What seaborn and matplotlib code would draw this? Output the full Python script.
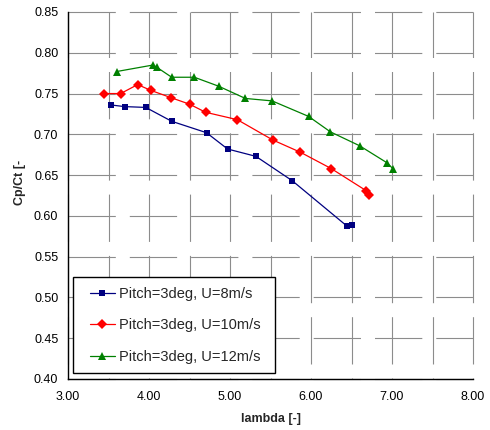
import numpy as np
import pandas as pd
import matplotlib
matplotlib.use("Agg")
import matplotlib.pyplot as plt
from matplotlib.patches import Rectangle
import seaborn as sns

# values
lam_8 = [3.53, 3.70, 3.96, 4.28, 4.71, 4.97, 5.32, 5.77, 6.45, 6.50]
cp_8 = [0.736, 0.734, 0.733, 0.716, 0.702, 0.682, 0.673, 0.643, 0.587, 0.589]
lam_10 = [3.44, 3.65, 3.86, 4.02, 4.27, 4.50, 4.70, 5.09, 5.53, 5.87, 6.25, 6.68, 6.72]
cp_10 = [0.750, 0.750, 0.761, 0.754, 0.745, 0.737, 0.727, 0.718, 0.693, 0.678, 0.658, 0.631, 0.626]
lam_12 = [3.60, 4.05, 4.10, 4.28, 4.56, 4.86, 5.19, 5.52, 5.97, 6.24, 6.60, 6.94, 7.01]
cp_12 = [0.777, 0.785, 0.782, 0.770, 0.770, 0.759, 0.744, 0.741, 0.722, 0.703, 0.686, 0.665, 0.658]

labels = ["Pitch=3deg, U=8m/s", "Pitch=3deg, U=10m/s", "Pitch=3deg, U=12m/s"]
colors = ["#000080", "#FF0000", "#008000"]
markers = ["s", "D", "^"]
marker_sizes = [5, 5, 6]

sns.set_style("white")
plt.rcParams["font.family"] = ["Liberation Sans", "DejaVu Sans"]
plt.rcParams["lines.scale_dashes"] = False

df = pd.concat([
    pd.DataFrame({"lambda": lam_8, "cp": cp_8, "series": labels[0]}),
    pd.DataFrame({"lambda": lam_10, "cp": cp_10, "series": labels[1]}),
    pd.DataFrame({"lambda": lam_12, "cp": cp_12, "series": labels[2]}),
], ignore_index=True)

fig = plt.figure(figsize=(4.9, 4.3), dpi=100)
ax = fig.add_axes([68 / 490, 51 / 430, 405 / 490, 367 / 430])

for lab, col, mk, ms in zip(labels, colors, markers, marker_sizes):
    sub = df[df["series"] == lab]
    sns.lineplot(data=sub, x="lambda", y="cp", ax=ax, color=col, marker=mk,
                 markersize=ms, markeredgewidth=0, linewidth=0.9, sort=False,
                 estimator=None, label=lab, legend=False)

ax.set_xlim(3, 8)
ax.set_ylim(0.40, 0.85)
ax.set_xticks(np.arange(3, 8.01, 1.0))
ax.set_xticks(np.arange(3.5, 8, 1.0), minor=True)
ax.set_yticks(np.arange(0.40, 0.851, 0.05))
ax.set_xticklabels([f"{v:.2f}" for v in np.arange(3, 8.01, 1.0)])
ax.set_yticklabels([f"{v:.2f}" for v in np.arange(0.40, 0.851, 0.05)])

# broken grid like the original export: 47 px on, 14 px off
on, off = 47.3 * 0.72, 14 * 0.72
ax.grid(True, axis="y", which="major", color="#8c8c8c", linewidth=0.8,
        linestyle=(0, (on, off)))
ax.grid(True, axis="x", which="both", color="#8c8c8c", linewidth=0.8,
        linestyle=(46.3 * 0.72, (on, off)))
ax.set_axisbelow(True)
for gl in ax.get_xgridlines() + ax.get_ygridlines():
    gl.set_clip_on(False)

for s in ["top", "right"]:
    ax.spines[s].set_visible(False)
for s in ["left", "bottom"]:
    ax.spines[s].set_color("black")
    ax.spines[s].set_linewidth(1.0)

ax.tick_params(axis="both", which="major", direction="out", length=3, width=0.8,
               labelsize=9, colors="black", pad=4)
ax.tick_params(axis="x", which="major", pad=6)
ax.tick_params(axis="x", which="minor", length=0)
ax.set_xlabel("")
ax.set_ylabel("")

fig.text(271 / 490, 1 - 419 / 430, "lambda [-]", ha="center", va="center",
         fontsize=9, fontweight="bold")
fig.text(20 / 490, 1 - 182 / 430, "Cp/Ct [-", ha="center", va="center",
         rotation=90, fontsize=9, fontweight="bold")

# legend frame drawn separately so the padding matches the original box
ax.add_patch(Rectangle((5 / 405, 6 / 367), 202 / 405, 96 / 367,
                       transform=ax.transAxes, facecolor="white",
                       edgecolor="black", linewidth=1.0, zorder=4, clip_on=False))
leg = ax.legend(handles=ax.lines[:3], labels=labels, loc="upper left",
                bbox_to_anchor=(22 / 405, 92 / 367), borderaxespad=0,
                fontsize=10.5, frameon=False, handlelength=1.7,
                handletextpad=0.3, labelspacing=1.2, borderpad=0)
leg.set_zorder(5)

fig.savefig("out.png", dpi=100)
